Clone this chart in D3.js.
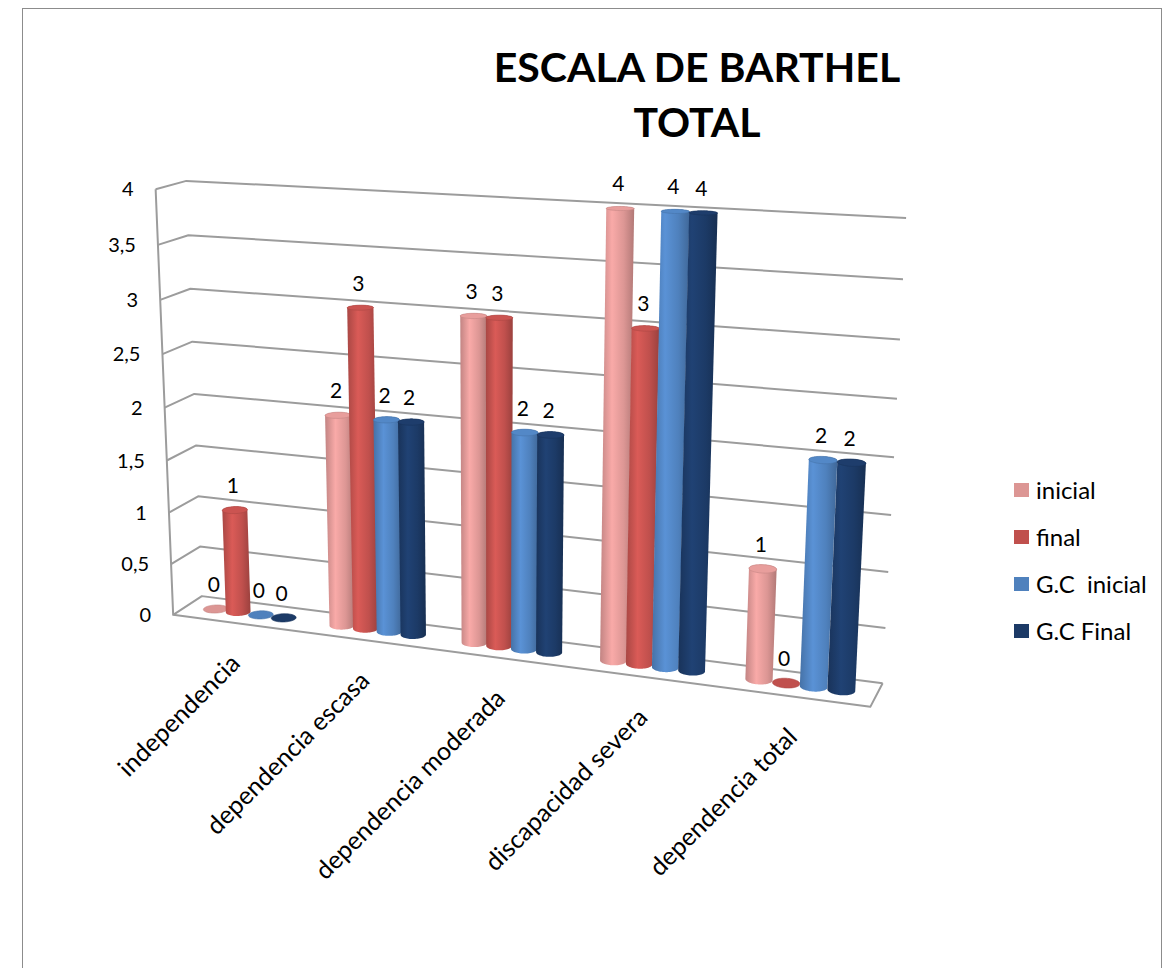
<!DOCTYPE html>
<html>
<head>
<meta charset="utf-8">
<script src="https://cdn.jsdelivr.net/npm/d3@7"></script>
<style>
  body { margin: 0; background: #fff; }
  text { font-family: Lato, "Open Sans", sans-serif; fill: #000; }
</style>
</head>
<body>
<div id="chart"></div>
<script>
// data
var categories = ["independencia", "dependencia escasa", "dependencia moderada", "discapacidad severa", "dependencia total"];
var series = ["inicial", "final", "G.C  inicial", "G.C Final"];
var valInicial = [0, 2, 3, 4, 1];
var valFinal = [1, 3, 3, 3, 0];
var valGCInicial = [0, 2, 2, 4, 2];
var valGCFinal = [0, 2, 2, 4, 2];
var seriesValues = [valInicial, valFinal, valGCInicial, valGCFinal];
var yTicks = [0, 0.5, 1, 1.5, 2, 2.5, 3, 3.5, 4];
var yTickLabels = ["0", "0,5", "1", "1,5", "2", "2,5", "3", "3,5", "4"];
var colors = ["#DC9694", "#C0504D", "#4F81BD", "#1C3A66"];

var width = 1172, height = 968;

var svg = d3.select("#chart")
  .append("svg")
  .attr("width", width)
  .attr("height", height);

// chart border (bottom edge falls outside the picture)
svg.append("rect")
  .attr("x", 22.5).attr("y", 8.5)
  .attr("width", 1139).attr("height", 980)
  .style("fill", "none")
  .style("stroke", "#8c8c8c")
  .style("stroke-width", 1);

// 3D box: world [x, y, z] in 0..1 (z = 0 front, z = 1 back wall) -> screen.
// a projective camera is fitted to the visible box corners
var boxCorners = [
  [[0, 0, 1], [200, 597]],
  [[0, 1, 1], [188, 181]],
  [[1, 0, 1], [883, 682]],
  [[1, 1, 1], [906, 218]],
  [[0, 0, 0], [175, 614]],
  [[0, 1, 0], [154, 189]],
  [[1, 0, 0], [870, 708]]
];
var nc = [530, 450], ns = 400; // normalisation of screen coords for the solve

function fitCamera(pts) {
  var A = [], b = [];
  pts.forEach(function (p) {
    var X = p[0][0], Y = p[0][1], Z = p[0][2];
    var u = (p[1][0] - nc[0]) / ns, v = (p[1][1] - nc[1]) / ns;
    A.push([X, Y, Z, 1, 0, 0, 0, 0, -u * X, -u * Y, -u * Z]); b.push(u);
    A.push([0, 0, 0, 0, X, Y, Z, 1, -v * X, -v * Y, -v * Z]); b.push(v);
  });
  var n = 11, M = [];
  for (var i = 0; i < n; i++) {
    M.push([]);
    for (var j = 0; j < n; j++) M[i].push(d3.sum(A, function (r) { return r[i] * r[j]; }));
    M[i].push(d3.sum(A, function (r, k) { return r[i] * b[k]; }));
  }
  for (var c = 0; c < n; c++) {
    var piv = c;
    for (var r = c + 1; r < n; r++) if (Math.abs(M[r][c]) > Math.abs(M[piv][c])) piv = r;
    var t = M[c]; M[c] = M[piv]; M[piv] = t;
    for (var r2 = 0; r2 < n; r2++) {
      if (r2 === c) continue;
      var f = M[r2][c] / M[c][c];
      for (var k = c; k <= n; k++) M[r2][k] -= f * M[c][k];
    }
  }
  return M.map(function (row, i) { return row[n] / row[i]; });
}
var cam = fitCamera(boxCorners);

function proj(X, Y, Z) {
  var w = cam[8] * X + cam[9] * Y + cam[10] * Z + 1;
  return [
    (cam[0] * X + cam[1] * Y + cam[2] * Z + cam[3]) / w * ns + nc[0],
    (cam[4] * X + cam[5] * Y + cam[6] * Z + cam[7]) / w * ns + nc[1]
  ];
}

// scales (world units)
var x0 = d3.scaleBand().domain(categories).range([0, 1]).paddingInner(0.275).paddingOuter(0.1375);
var x1 = d3.scaleBand().domain(series).range([0, x0.bandwidth()]);
var y = d3.scaleLinear().domain([0, 4]).range([0, 1]);

var line = d3.line();

// walls and gridlines
var grid = svg.append("g")
  .style("fill", "none")
  .style("stroke", "#9c9c9c")
  .style("stroke-width", 2)
  .style("stroke-linejoin", "round");

yTicks.forEach(function (t) {
  grid.append("path")
    .attr("d", line([proj(0, y(t), 0), proj(0, y(t), 1), proj(1, y(t), 1)]));
});
grid.append("path").attr("d", line([proj(0, y(4), 0), proj(0, 0, 0), proj(1, 0, 0), proj(1, 0, 1)]));

// y axis labels
svg.append("g").selectAll("text")
  .data(yTicks)
  .enter()
  .append("text")
  .attr("x", function (d) { return proj(0, y(d), 0)[0] - 22; })
  .attr("y", function (d) { return proj(0, y(d), 0)[1]; })
  .attr("dy", "0.36em")
  .style("text-anchor", "end")
  .style("font-size", "20px")
  .text(function (d, i) { return yTickLabels[i]; });

// gradients for the cylinders
var defs = svg.append("defs");
colors.forEach(function (c, i) {
  var base = d3.color(c);
  var g = defs.append("linearGradient")
    .attr("id", "cyl" + i)
    .attr("x1", 0).attr("x2", 1).attr("y1", 0).attr("y2", 0);
  g.append("stop").attr("offset", "0%").attr("stop-color", base.darker(0.35));
  g.append("stop").attr("offset", "35%").attr("stop-color", base.brighter(0.35));
  g.append("stop").attr("offset", "70%").attr("stop-color", base);
  g.append("stop").attr("offset", "100%").attr("stop-color", base.darker(0.6));
});

// bars as cylinders
var rz = 0.2, zc = 0.5;
function ring(cx, yv, rx) {
  return d3.range(60).map(function (k) {
    var a = 2 * Math.PI * k / 60;
    return proj(cx + rx * Math.cos(a), yv, zc + rz * Math.sin(a));
  });
}

var bars = [];
categories.forEach(function (cat, i) {
  series.forEach(function (s, j) {
    bars.push({ cat: cat, s: j, value: seriesValues[j][i] });
  });
});

var barG = svg.append("g");
bars.forEach(function (d) {
  var rx = x1.bandwidth() / 2;
  var cx = x0(d.cat) + x1(series[d.s]) + rx;
  var bottom = ring(cx, 0, rx * 0.98);
  var top = ring(cx, y(d.value), rx * 0.98);
  var base = d3.color(colors[d.s]);
  if (d.value > 0) {
    barG.append("path")
      .attr("d", line(d3.polygonHull(bottom.concat(top))) + "Z")
      .style("fill", "url(#cyl" + d.s + ")");
  }
  barG.append("path")
    .attr("d", line(top) + "Z")
    .style("fill", d.value > 0 ? base.brighter(0.15) : base)
    .style("stroke", base.darker(0.3))
    .style("stroke-width", 0.6);
  d.top = proj(cx, y(d.value), zc);
});

// data labels
svg.append("g").selectAll("text")
  .data(bars)
  .enter()
  .append("text")
  .attr("x", function (d) { return d.top[0] - 2; })
  .attr("y", function (d) { return d.top[1] - 17; })
  .style("text-anchor", "middle")
  .style("font-size", "21px")
  .text(function (d) { return d.value; });

// category labels (slanted), hung below the front edge of the floor
svg.append("g").selectAll("text")
  .data(categories)
  .enter()
  .append("text")
  .attr("transform", function (d) {
    var p = proj(x0(d) + x0.bandwidth() / 2, 0, 0);
    return "translate(" + (p[0] + 6) + "," + (p[1] + 42) + ") rotate(-45)";
  })
  .style("text-anchor", "end")
  .style("font-size", "25px")
  .text(function (d) { return d; });

// title
var title = svg.append("text")
  .attr("x", 697)
  .attr("y", 82)
  .style("text-anchor", "middle")
  .style("font-size", "41px")
  .style("font-weight", "bold");
title.append("tspan").attr("x", 697).text("ESCALA DE BARTHEL");
title.append("tspan").attr("x", 697).attr("y", 137).text("TOTAL");

// legend
var legend = svg.append("g").selectAll("g")
  .data(series)
  .enter()
  .append("g")
  .attr("transform", function (d, i) { return "translate(1014," + (490 + i * 47) + ")"; });
legend.append("rect")
  .attr("x", 0).attr("y", -7)
  .attr("width", 15).attr("height", 14)
  .style("fill", function (d, i) { return colors[i]; });
legend.append("text")
  .attr("x", 22)
  .attr("dy", "0.36em")
  .style("font-size", "24px")
  .style("white-space", "pre")
  .text(function (d) { return d; });
</script>
</body>
</html>
